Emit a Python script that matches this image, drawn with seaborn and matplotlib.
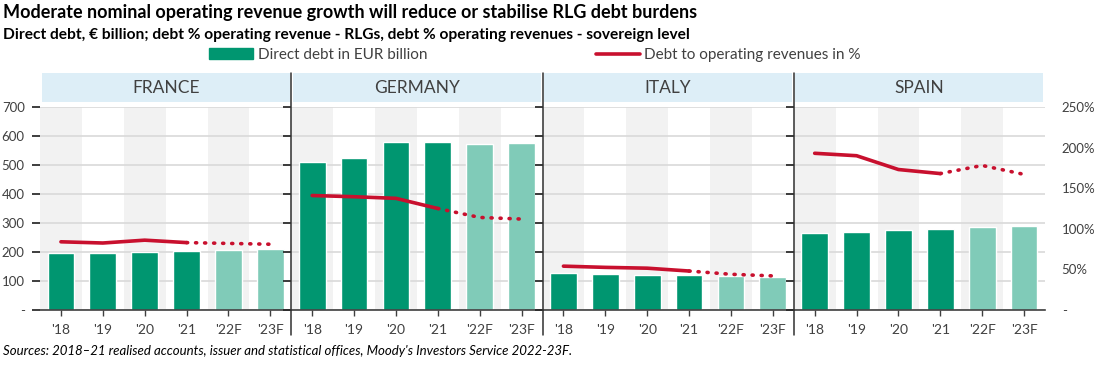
import numpy as np
import pandas as pd
import seaborn as sns
import matplotlib.pyplot as plt
from matplotlib.patches import Patch, Rectangle
from matplotlib.lines import Line2D

# data
countries = ["FRANCE", "GERMANY", "ITALY", "SPAIN"]
years = ["'18", "'19", "'20", "'21", "'22F", "'23F"]
debt_france = [195, 195, 200, 203, 208, 210]
debt_germany = [511, 523, 578, 578, 572, 577]
debt_italy = [127, 124, 122, 121, 117, 113]
debt_spain = [264, 269, 275, 278, 286, 290]
ratio_france = [84, 82.5, 86, 83, 82, 81]
ratio_germany = [141, 139.5, 137.5, 125, 114, 112]
ratio_italy = [54, 52.5, 51.5, 48, 44, 42]
ratio_spain = [193, 190, 173, 168, 178, 167]

debt = [debt_france, debt_germany, debt_italy, debt_spain]
ratio = [ratio_france, ratio_germany, ratio_italy, ratio_spain]

DARK_GREEN = "#009670"
LIGHT_GREEN = "#80cbb8"
RED = "#c8102e"
TXT = "#404040"
GRID = "#d9d9d9"
SHADE = "#f2f2f2"
HEADER = "#ddeef7"

sns.set_theme(style="white")
plt.rcParams["font.family"] = ["Lato", "DejaVu Sans"]

fig, axes = plt.subplots(1, 4, figsize=(11, 3.65), dpi=100, sharey=True)
fig.subplots_adjust(left=40 / 1100, right=1045 / 1100, bottom=1 - 310 / 365,
                    top=1 - 107 / 365, wspace=0)

pos = np.arange(len(years))
bar_colors = [DARK_GREEN] * 4 + [LIGHT_GREEN] * 2

for i, ax in enumerate(axes):
    df = pd.DataFrame({"year": years, "debt": debt[i]})
    for k in (0, 2, 4):
        ax.axvspan(k - 0.5, k + 0.5, color=SHADE, zorder=0, lw=0)
    sns.barplot(data=df, x="year", y="debt", hue="year", palette=bar_colors,
                saturation=1, legend=False, width=0.64, ax=ax, zorder=2)
    ax.set_xlim(-0.5, 5.5)
    ax.set_ylim(0, 700)
    ax.set_yticks(range(0, 701, 100))
    ax.set_yticklabels(["-"] + [str(v) for v in range(100, 701, 100)])
    ax.set_axisbelow(True)
    ax.yaxis.grid(True, color=GRID, lw=1.2)
    ax.set_xlabel("")
    ax.set_ylabel("")
    for s in ("top", "left", "right"):
        ax.spines[s].set_visible(False)
    ax.spines["bottom"].set_color(TXT)
    ax.spines["bottom"].set_linewidth(1.2)
    ax.tick_params(axis="x", bottom=True, length=4, width=1, color=TXT,
                   labelsize=10, labelcolor=TXT, pad=6)
    ax.tick_params(axis="y", left=False, labelsize=9.5, labelcolor=TXT, pad=5,
                   labelleft=(i == 0))

    tw = ax.twinx()
    sns.lineplot(x=pos[:4], y=ratio[i][:4], ax=tw, color=RED, lw=2.6,
                 solid_capstyle="round")
    sns.lineplot(x=pos[3:], y=ratio[i][3:], ax=tw, color=RED, lw=2.6,
                 linestyle=(0, (0.3, 2.2)), dash_capstyle="round")
    tw.set_ylim(0, 250)
    tw.set_yticks(range(0, 251, 50))
    tw.set_yticklabels(["-"] + [f"{v}%" for v in range(50, 251, 50)])
    tw.set_ylabel("")
    for s in tw.spines.values():
        s.set_visible(False)
    tw.tick_params(axis="y", right=False, labelsize=9.5, labelcolor=TXT, pad=6,
                   labelright=(i == 3))

    # panel header band
    ax.add_patch(Rectangle((0.006, 1.025), 0.988, 0.142, transform=ax.transAxes,
                           color=HEADER, clip_on=False, lw=0))
    ax.text(0.5, 1.096, countries[i], transform=ax.transAxes, ha="center",
            va="center", fontsize=12.5, color=TXT)

# vertical separators between panels
for ax in axes[1:]:
    x0 = ax.get_position().x0
    fig.add_artist(Line2D([x0, x0], [1 - 73 / 365, 1 - 335 / 365],
                          color="#303030", lw=1.1, transform=fig.transFigure))

fig.text(0.003, 0.965, "Moderate nominal operating revenue growth will reduce or stabilise RLG debt burdens",
         fontsize=13, fontweight="bold", color="black", va="center")
fig.text(0.003, 0.905, "Direct debt, € billion; debt % operating revenue - RLGs, debt % operating revenues - sovereign level",
         fontsize=11.2, fontweight="bold", color="black", va="center")

handles = [Patch(color=DARK_GREEN), Line2D([0], [0], color=RED, lw=2.6)]
fig.legend(handles, ["Direct debt in EUR billion", "Debt to operating revenues in %"],
           loc="center", bbox_to_anchor=(535 / 1100, 1 - 55 / 365), ncol=2,
           frameon=False, fontsize=11, labelcolor=TXT, handlelength=2.9,
           handleheight=0.7, columnspacing=11, handletextpad=0.3)

fig.text(0.003, 1 - 351 / 365,
         "Sources: 2018\u201321 realised accounts, issuer and statistical offices, Moody's Investors Service 2022-23F.",
         fontsize=9.5, style="italic", color="black", va="center")

fig.savefig("out.png", dpi=100)
